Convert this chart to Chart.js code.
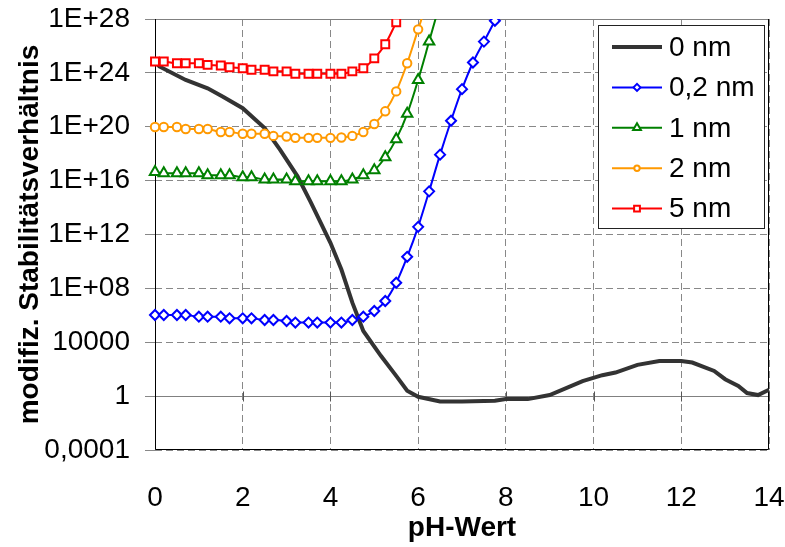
<!DOCTYPE html>
<html>
<head>
<meta charset="utf-8">
<script src="https://cdn.jsdelivr.net/npm/chart.js@4"></script>
<style>
  html, body { margin: 0; padding: 0; background: #fff; }
  #wrap { width: 785px; height: 547px; }
</style>
</head>
<body>
<div id="wrap"><canvas id="chart"></canvas></div>
<script>
// pH-Werte der Messpunkte (gemeinsam fuer die Reihen mit Markern)
const phWerte = [0, 0.2, 0.5, 0.7, 1, 1.2, 1.5, 1.7, 2, 2.2, 2.5, 2.7, 3, 3.2, 3.5, 3.7, 4,
  4.25, 4.5, 4.75, 5, 5.25, 5.5, 5.75, 6, 6.25, 6.5, 6.75, 7, 7.25, 7.5, 7.75, 8];

// 0 nm (eigene pH-Stuetzstellen)
const ph0 = [0, 0.1, 0.7, 1.2, 1.55, 2, 2.5, 2.85, 3.25, 3.55, 4, 4.25, 4.5, 4.75, 5.15, 5.5, 5.75,
  6, 6.5, 7, 7.75, 8, 8.5, 9, 9.75, 10.2, 10.5, 11, 11.5, 12, 12.25, 12.75, 13, 13.3, 13.5, 13.75, 14];
const werte0 = [7e24, 3e24, 3e23, 7.2e22, 1.7e22, 2.4e21, 7.9e19, 2e18, 2.1e16, 2.5e14, 2.4e11, 2.5e9,
  8.7e6, 6.9e4, 980, 32, 2.5, 0.9, 0.4, 0.4, 0.45, 0.6, 0.6, 1.2, 13, 36, 56, 210, 410, 410, 310, 74,
  18, 5.8, 1.7, 1.2, 3];

const werte02 = [1.05e6, 1.05e6, 1.05e6, 1.05e6, 7.9e5, 7.9e5, 7.9e5, 6e5, 6e5, 6e5, 4.5e5, 4.5e5,
  3.8e5, 2.9e5, 2.9e5, 2.9e5, 2.9e5, 2.9e5, 4.5e5, 7.9e5, 2.1e6, 1.15e7, 2.6e8, 2.2e10, 3.7e12,
  1.6e15, 8.5e17, 2.8e20, 6.2e22, 5.9e24, 2.1e26, 7.4e27, 3e29];
const werte1 = [4.4e16, 3.6e16, 3.6e16, 3.6e16, 3.6e16, 2.5e16, 2.5e16, 2.5e16, 1.8e16, 1.8e16,
  1.2e16, 1.2e16, 1.2e16, 8.9e15, 8.9e15, 8.9e15, 8.9e15, 8.9e15, 1.2e16, 2.5e16, 5.9e16, 5.4e17,
  1.2e19, 9.1e20, 3e23, 2.1e26, 1.6e29];
const werte2 = [9.5e19, 9.5e19, 9.5e19, 6.8e19, 6.8e19, 6.8e19, 4.1e19, 4.1e19, 3e19, 3e19, 3e19,
  2.1e19, 1.9e19, 1.5e19, 1.5e19, 1.5e19, 1.5e19, 1.6e19, 2.1e19, 4.1e19, 1.6e20, 1.4e21, 4.2e22,
  5.2e24, 1.7e27, 5e29];
const werte5 = [6.9e24, 6.9e24, 5.2e24, 5.2e24, 5.2e24, 3.9e24, 3.5e24, 2.6e24, 2.2e24, 1.7e24,
  1.7e24, 1.3e24, 1.3e24, 8.5e23, 8.5e23, 8.5e23, 8.5e23, 8.5e23, 1.3e24, 2.2e24, 1.2e25, 1.35e26,
  5.6e27, 2.5e29];

const xTickWerte = [0, 2, 4, 6, 8, 10, 12, 14];
const yTickWerte = [1e-4, 1, 1e4, 1e8, 1e12, 1e16, 1e20, 1e24, 1e28];
const yTickLabels = ['0,0001', '1', '10000', '1E+08', '1E+12', '1E+16', '1E+20', '1E+24', '1E+28'];

const family = '"Liberation Sans", Arial, sans-serif';
const clipOben = { left: 12, right: 12, top: 0, bottom: 12 };

function toPoints(xs, ys) {
  return ys.map((y, i) => ({ x: xs[i], y }));
}

function markerReihe(label, xs, ys, color, style, radius, order) {
  return {
    label,
    data: toPoints(xs, ys),
    borderColor: color,
    borderWidth: 2,
    pointStyle: style,
    pointRadius: radius,
    pointBorderWidth: 2,
    pointBorderColor: color,
    pointBackgroundColor: '#fff',
    cubicInterpolationMode: 'monotone',
    clip: clipOben,
    order
  };
}

// keine automatische Randzugabe fuer ueberstehende Beschriftungen
function ohnePadding(s) {
  s.paddingLeft = 0; s.paddingRight = 0; s.paddingTop = 0; s.paddingBottom = 0;
}

// Achsenlinien wie im Excel-Diagramm: y=1 als Achse, Rahmen oben/rechts
const achsenLinien = {
  id: 'achsenLinien',
  beforeDatasetsDraw(chart) {
    const { ctx, chartArea: a, scales: { x, y } } = chart;
    const y1 = Math.round(y.getPixelForValue(1)) + 0.5;
    ctx.save();
    ctx.lineWidth = 1;
    ctx.strokeStyle = '#808080';
    ctx.beginPath();
    ctx.moveTo(a.left, y1); ctx.lineTo(a.right, y1);
    ctx.moveTo(a.left, a.top + 0.5); ctx.lineTo(a.right, a.top + 0.5);
    ctx.stroke();
    ctx.strokeStyle = '#555';
    ctx.beginPath();
    xTickWerte.forEach(v => {
      const px = Math.round(x.getPixelForValue(v)) + 0.5;
      ctx.moveTo(px, y1 - 5); ctx.lineTo(px, y1 + 5);
    });
    ctx.stroke();
    ctx.strokeStyle = '#000';
    ctx.beginPath();
    ctx.moveTo(a.left + 0.5, a.top); ctx.lineTo(a.left + 0.5, a.bottom - 0.5);
    ctx.lineTo(a.right - 0.5, a.bottom - 0.5);
    ctx.lineTo(a.right - 0.5, a.top);
    ctx.stroke();
    ctx.restore();
  }
};

// Legende im Diagramm, mit Linie und Marker je Reihe
const legendeBox = {
  id: 'legendeBox',
  afterDraw(chart) {
    const { ctx, chartArea: a } = chart;
    const left = a.right - 171, top = a.top + 6, w = 166, h = 203;
    ctx.save();
    ctx.fillStyle = '#fff';
    ctx.fillRect(left, top, w, h);
    ctx.strokeStyle = '#222';
    ctx.lineWidth = 1;
    ctx.strokeRect(left + 0.5, top + 0.5, w, h);
    ctx.font = '28px ' + family;
    ctx.textBaseline = 'middle';
    chart.data.datasets.forEach((ds, i) => {
      const y = top + 22 + i * 40.4;
      ctx.strokeStyle = ds.borderColor;
      ctx.lineWidth = ds.borderWidth;
      ctx.beginPath();
      ctx.moveTo(left + 14, y); ctx.lineTo(left + 64, y);
      ctx.stroke();
      if (ds.pointRadius > 0) {
        ctx.fillStyle = '#fff';
        ctx.lineWidth = ds.pointBorderWidth;
        Chart.helpers.drawPoint(ctx, {
          pointStyle: ds.pointStyle, radius: ds.pointRadius - 1.5,
          borderWidth: ds.pointBorderWidth, rotation: 0
        }, left + 39, y);
      }
      ctx.fillStyle = '#000';
      ctx.fillText(ds.label, left + 71, y + 1);
    });
    ctx.restore();
  }
};

new Chart(document.getElementById('chart'), {
  type: 'line',
  data: {
    datasets: [
      {
        label: '0 nm',
        data: toPoints(ph0, werte0),
        borderColor: '#333333',
        borderWidth: 4,
        pointRadius: 0,
        tension: 0,
        clip: clipOben,
        order: 5
      },
      markerReihe('0,2 nm', phWerte, werte02, '#0000ff', 'rectRot', 5, 4),
      markerReihe('1 nm', phWerte, werte1, '#008000', 'triangle', 6, 3),
      markerReihe('2 nm', phWerte, werte2, '#ff9900', 'circle', 4.2, 2),
      markerReihe('5 nm', phWerte, werte5, '#ff0000', 'rect', 5.6, 1)
    ]
  },
  options: {
    responsive: true,
    maintainAspectRatio: false,
    animation: false,
    layout: { padding: { top: 19, right: 16, left: 0, bottom: 0 } },
    plugins: {
      legend: { display: false },
      tooltip: { enabled: false }
    },
    scales: {
      x: {
        type: 'linear',
        min: 0,
        max: 14,
        afterBuildTicks: s => { s.ticks = xTickWerte.map(v => ({ value: v })); },
        afterFit: s => { s.height = 97; ohnePadding(s); },
        ticks: { color: '#000', font: { family, size: 28 }, padding: 31, maxRotation: 0 },
        grid: { color: '#888', drawTicks: false },
        border: { display: false, dash: [7, 4] },
        title: {
          display: true, text: 'pH-Wert', color: '#000',
          font: { family, size: 28, weight: 'bold' },
          padding: { top: 0, bottom: 2 }
        }
      },
      y: {
        type: 'logarithmic',
        min: 1e-4,
        max: 1e28,
        afterBuildTicks: s => { s.ticks = yTickWerte.map(v => ({ value: v })); },
        afterFit: s => { s.width = 155; ohnePadding(s); },
        ticks: {
          color: '#000', font: { family, size: 28 }, padding: 15,
          callback: (v, i) => yTickLabels[i]
        },
        grid: { color: '#888', tickColor: '#888', tickLength: 10 },
        border: { display: false, dash: [7, 4] },
        title: {
          display: true, text: 'modifiz. Stabilitätsverhältnis', color: '#000',
          font: { family, size: 28, weight: 'bold' },
          padding: { top: 13, bottom: 0 }
        }
      }
    }
  },
  plugins: [achsenLinien, legendeBox]
});
</script>
</body>
</html>
